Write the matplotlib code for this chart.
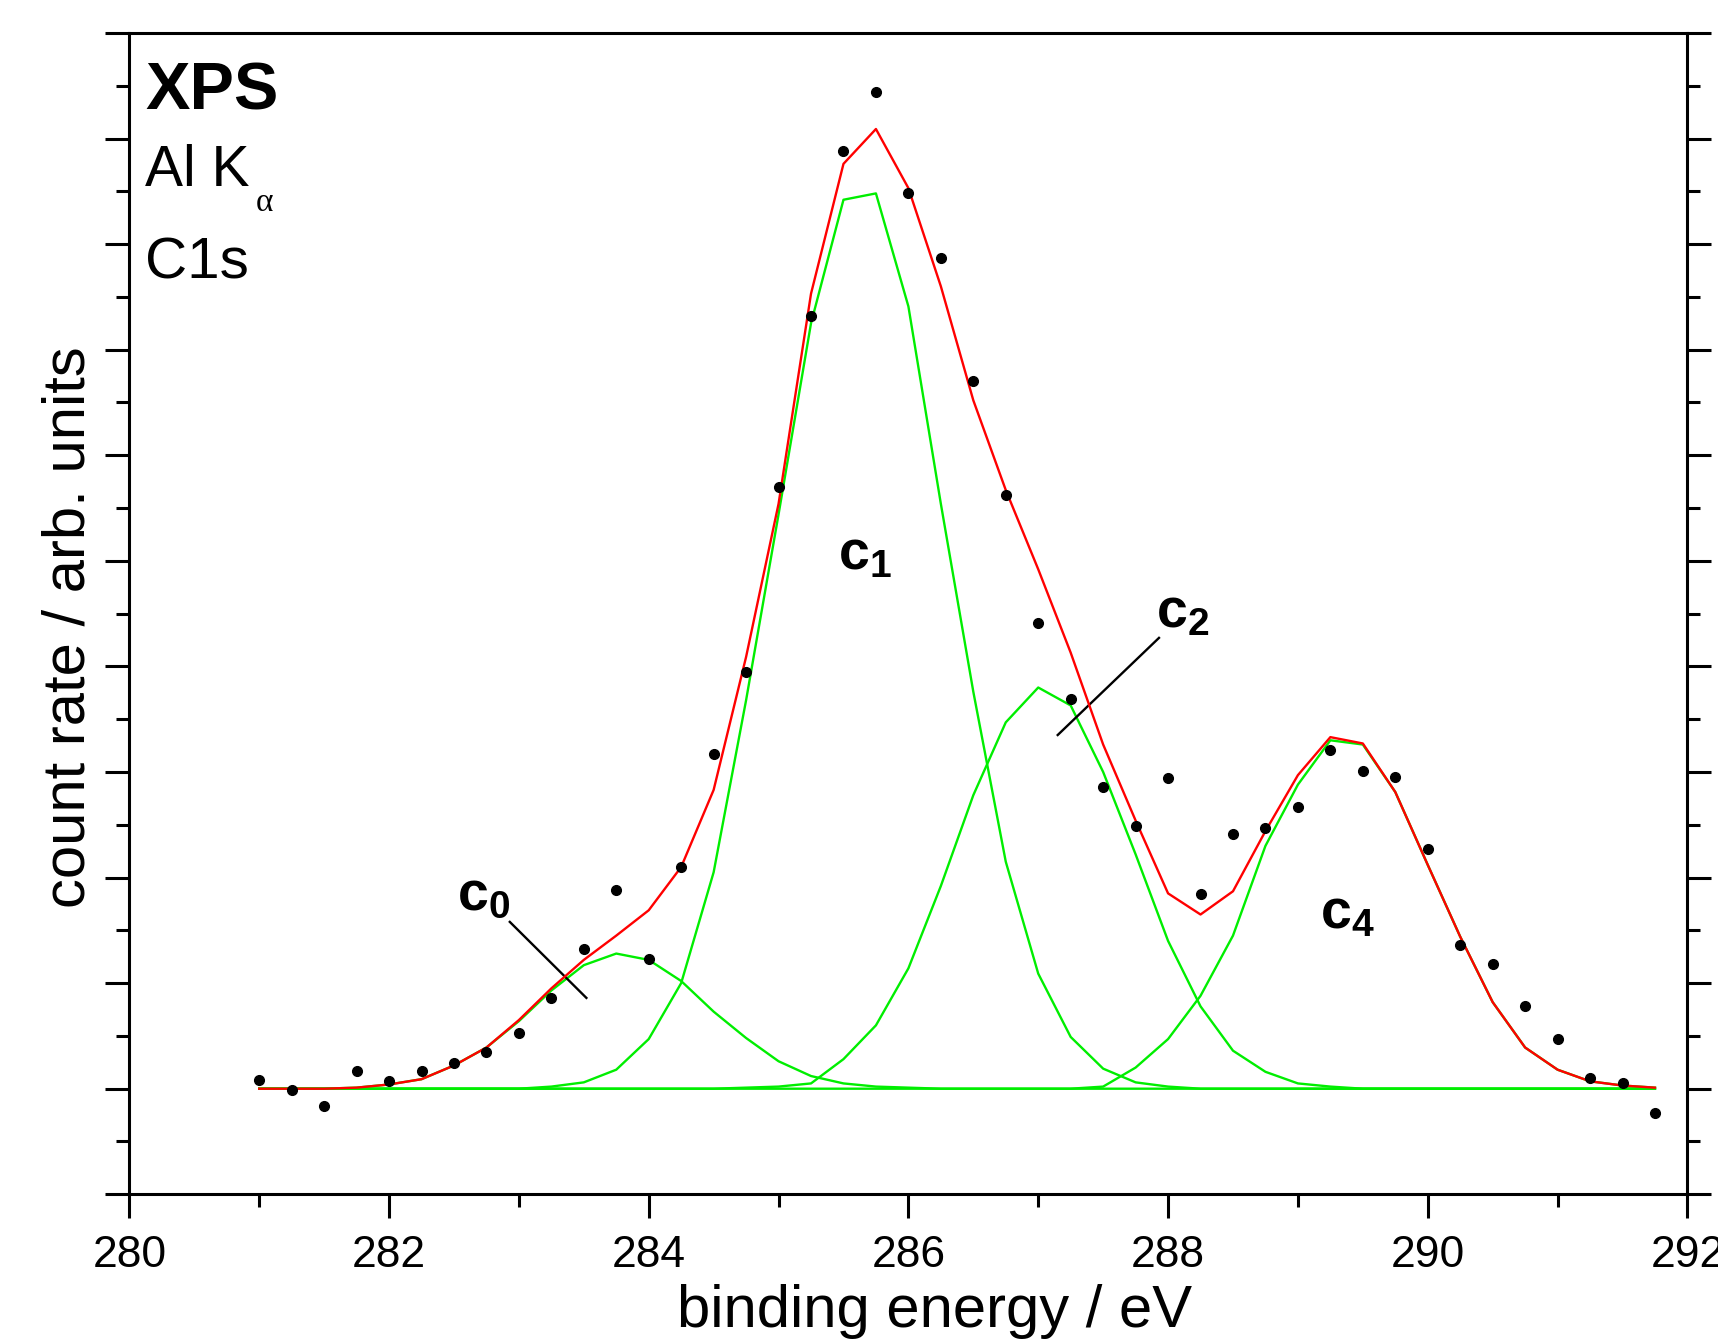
import numpy as np
import matplotlib
matplotlib.use("Agg")
import matplotlib.pyplot as plt
from matplotlib.ticker import MultipleLocator, NullFormatter

plt.rcParams['font.family'] = ['Liberation Sans', 'DejaVu Sans']
plt.rcParams['mathtext.fontset'] = 'custom'
plt.rcParams['mathtext.bf'] = 'Liberation Sans:bold'
plt.rcParams['mathtext.rm'] = 'Liberation Sans'

# --- DATA (arb. units) ---
energy = np.arange(281.0, 291.76, 0.25)

measured = [0.08, -0.01, -0.16, 0.17, 0.07, 0.17, 0.24, 0.35, 0.53, 0.86,
            1.32, 1.88, 1.23, 2.10, 3.17, 3.95, 5.70, 7.32, 8.88, 9.44,
            8.48, 7.87, 6.70, 5.62, 4.41, 3.69, 2.86, 2.49, 2.94, 1.84,
            2.41, 2.47, 2.67, 3.21, 3.01, 2.95, 2.27, 1.36, 1.18, 0.78,
            0.47, 0.10, 0.05, -0.23]

fit = [0.00, 0.00, 0.00, 0.01, 0.04, 0.09, 0.22, 0.39, 0.65, 0.95,
       1.22, 1.45, 1.69, 2.10, 2.83, 4.09, 5.54, 7.53, 8.76, 9.09,
       8.53, 7.60, 6.52, 5.67, 4.92, 4.13, 3.26, 2.54, 1.85, 1.65,
       1.87, 2.44, 2.97, 3.33, 3.27, 2.81, 2.12, 1.44, 0.82, 0.39,
       0.18, 0.07, 0.03, 0.01]

c0 = [0.00, 0.00, 0.00, 0.01, 0.04, 0.09, 0.22, 0.39, 0.64, 0.93,
      1.17, 1.28, 1.22, 1.02, 0.73, 0.48, 0.26, 0.12, 0.05, 0.02,
      0.01, 0.00, 0.00, 0.00, 0.00, 0.00, 0.00, 0.00, 0.00, 0.00,
      0.00, 0.00, 0.00, 0.00, 0.00, 0.00, 0.00, 0.00, 0.00, 0.00,
      0.00, 0.00, 0.00, 0.00]

c1 = [0.00, 0.00, 0.00, 0.00, 0.00, 0.00, 0.00, 0.00, 0.00, 0.02,
      0.06, 0.18, 0.47, 1.00, 2.05, 3.68, 5.44, 7.25, 8.42, 8.48,
      7.41, 5.54, 3.76, 2.15, 1.09, 0.49, 0.19, 0.06, 0.02, 0.00,
      0.00, 0.00, 0.00, 0.00, 0.00, 0.00, 0.00, 0.00, 0.00, 0.00,
      0.00, 0.00, 0.00, 0.00]

c2 = [0.00, 0.00, 0.00, 0.00, 0.00, 0.00, 0.00, 0.00, 0.00, 0.00,
      0.00, 0.00, 0.00, 0.00, 0.00, 0.01, 0.02, 0.05, 0.28, 0.60,
      1.14, 1.92, 2.78, 3.47, 3.80, 3.63, 3.00, 2.22, 1.40, 0.78,
      0.36, 0.16, 0.05, 0.02, 0.00, 0.00, 0.00, 0.00, 0.00, 0.00,
      0.00, 0.00, 0.00, 0.00]

c4 = [0.00, 0.00, 0.00, 0.00, 0.00, 0.00, 0.00, 0.00, 0.00, 0.00,
      0.00, 0.00, 0.00, 0.00, 0.00, 0.00, 0.00, 0.00, 0.00, 0.00,
      0.00, 0.00, 0.00, 0.00, 0.00, 0.00, 0.02, 0.20, 0.47, 0.88,
      1.45, 2.30, 2.88, 3.30, 3.26, 2.81, 2.12, 1.44, 0.82, 0.39,
      0.18, 0.07, 0.03, 0.01]

# component labels: (text, x, y) and leader lines
comp_labels = [(r'$\mathbf{c_0}$', 282.52, 1.69),
               (r'$\mathbf{c_1}$', 285.46, 4.92),
               (r'$\mathbf{c_2}$', 287.91, 4.37),
               (r'$\mathbf{c_4}$', 289.17, 1.52)]
leaders = [((282.93, 283.52), (1.58, 0.86)),
           ((287.93, 287.15), (4.27, 3.35))]

GREEN = '#00ee00'
RED = '#ff0000'

fig = plt.figure(figsize=(17.18, 13.44), dpi=100)
ax = fig.add_axes([0.0753, 0.1114, 0.9069, 0.8641])

for comp in (c0, c1, c2, c4):
    ax.plot(energy, comp, color=GREEN, lw=1.7, zorder=2)
ax.plot(energy, fit, color=RED, lw=1.7, zorder=3)
ax.plot(energy, measured, 'o', color='black', ms=7, zorder=4)

for txt, x, y in comp_labels:
    ax.text(x, y, txt, fontsize=40, ha='left', va='baseline', math_fontfamily='custom')
for xs, ys in leaders:
    ax.plot(xs, ys, color='black', lw=1.7)

ax.text(280.12, 9.27, 'XPS', fontsize=48, fontweight='bold', va='baseline')
ax.text(280.12, 8.55, 'Al K', fontsize=41, va='baseline')
ax.text(280.97, 8.31, '\u03b1', fontsize=24, va='baseline',
        family=['Liberation Serif', 'DejaVu Serif'])
ax.text(280.12, 7.67, 'C1s', fontsize=42, va='baseline')

ax.set_xlim(280, 292)
ax.set_ylim(-1, 10)
ax.xaxis.set_major_locator(MultipleLocator(2))
ax.xaxis.set_minor_locator(MultipleLocator(1))
ax.yaxis.set_major_locator(MultipleLocator(1))
ax.yaxis.set_minor_locator(MultipleLocator(0.5))
ax.yaxis.set_major_formatter(NullFormatter())

for side in ('left', 'right', 'top', 'bottom'):
    ax.spines[side].set_linewidth(2.2)
ax.tick_params(axis='x', which='major', direction='out', length=17, width=2.2,
               labelsize=32, pad=12, top=False)
ax.tick_params(axis='x', which='minor', direction='out', length=9.5, width=2.2, top=False)
ax.tick_params(axis='y', which='major', direction='out', length=17, width=2.2,
               left=True, right=True)
ax.tick_params(axis='y', which='minor', direction='out', length=9.5, width=2.2,
               left=True, right=True)

ax.set_xlabel('binding energy / eV', fontsize=43)
ax.set_ylabel('count rate / arb. units', fontsize=43)
ax.xaxis.set_label_coords(0.517, -0.077)
ax.yaxis.set_label_coords(-0.021, 0.488)

fig.savefig('out.png', dpi=100)
